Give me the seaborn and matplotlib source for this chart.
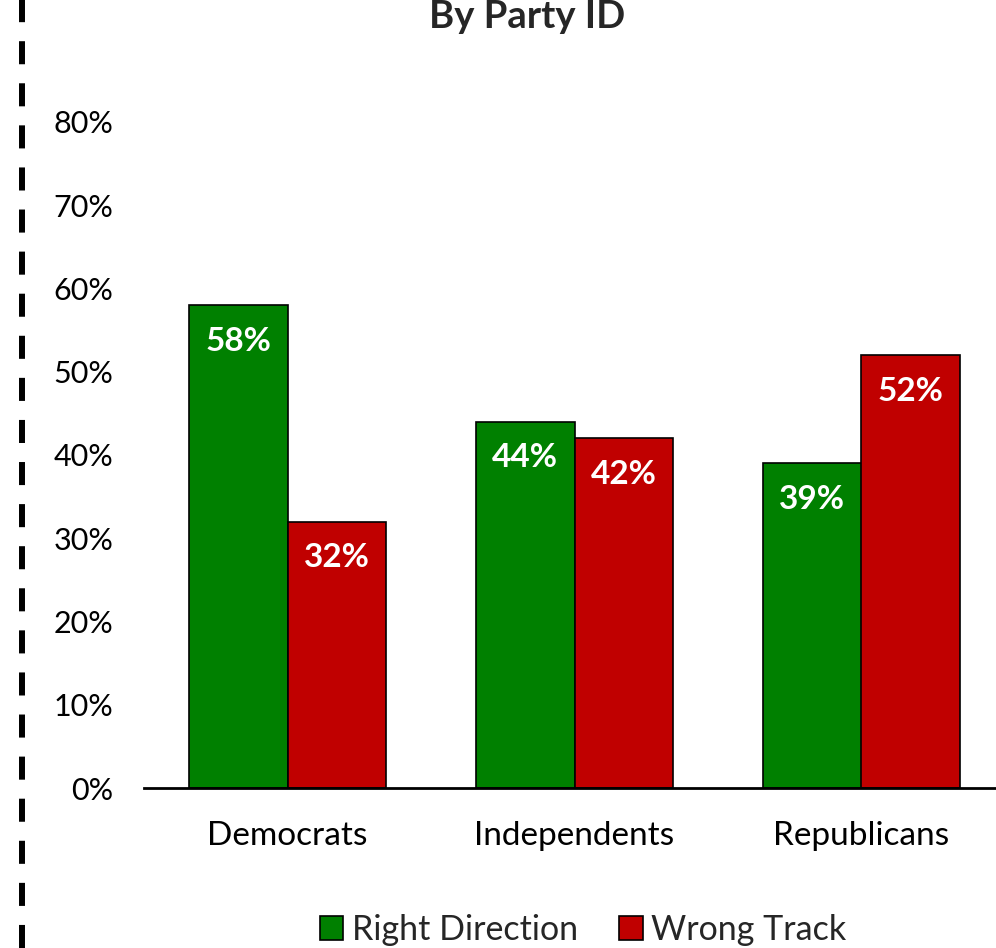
import matplotlib
matplotlib.use("Agg")
import matplotlib.pyplot as plt
import seaborn as sns
import pandas as pd
from matplotlib.lines import Line2D
from matplotlib.patches import Patch

categories = ["Democrats", "Independents", "Republicans"]
series = ["Right Direction", "Wrong Track"]
right_direction = [58, 44, 39]
wrong_track = [32, 42, 52]
yticks = [0, 10, 20, 30, 40, 50, 60, 70, 80]
colors = ["#008000", "#C00000"]

df = pd.DataFrame({
    "Party": categories * 2,
    "Series": [series[0]] * 3 + [series[1]] * 3,
    "Value": right_direction + wrong_track,
})

sns.set_theme(style="white")
plt.rcParams["font.family"] = ["Lato", "DejaVu Sans"]
plt.rcParams["lines.scale_dashes"] = False

W, H = 996, 948
fig = plt.figure(figsize=(W / 100, H / 100), dpi=100)
left = 144 / W
right = 1005 / W
bottom = 1 - 788 / H
top = 1 - 122 / H
ax = fig.add_axes([left, bottom, right - left, top - bottom])

sns.barplot(data=df, x="Party", y="Value", hue="Series", palette=colors,
            width=0.687, edgecolor="black", linewidth=1.2, ax=ax, legend=False,
            saturation=1)

ax.set_ylim(0, 80)
ax.set_xlim(-0.5, 2.5)
ax.set_yticks(yticks)
ax.set_yticklabels([f"{t}%" for t in yticks], fontsize=22, color="black")
ax.tick_params(axis="y", length=0, pad=22)
ax.tick_params(axis="x", length=0, pad=24, labelsize=24, labelcolor="black")
ax.set_xlabel("")
ax.set_ylabel("")
for s in ["left", "right", "top"]:
    ax.spines[s].set_visible(False)
ax.spines["bottom"].set_color("black")
ax.spines["bottom"].set_linewidth(2)

for cont in ax.containers:
    for bar in cont:
        h = bar.get_height()
        ax.annotate(f"{h:.0f}%", (bar.get_x() + bar.get_width() / 2, h),
                    xytext=(0, -26), textcoords="offset points",
                    ha="center", va="center", color="white",
                    fontsize=24, fontweight="bold")

fig.text(527 / W, 1 - 28 / H, "By Party ID", ha="center", va="baseline",
         fontsize=27.5, fontweight="bold")

handles = [Patch(facecolor=c, edgecolor="black", linewidth=1.2) for c in colors]
fig.legend(handles, series, loc="center", bbox_to_anchor=(583 / W, 1 - 930 / H),
           ncol=2, frameon=False, fontsize=24.5, handlelength=0.7, handleheight=0.7,
           handletextpad=0.25, columnspacing=1.2)

fig.add_artist(Line2D([22 / W, 22 / W], [0, 1], transform=fig.transFigure,
                      color="black", linewidth=4.3, dashes=(16.6, 13.7)))

fig.savefig("out.png", dpi=100)
